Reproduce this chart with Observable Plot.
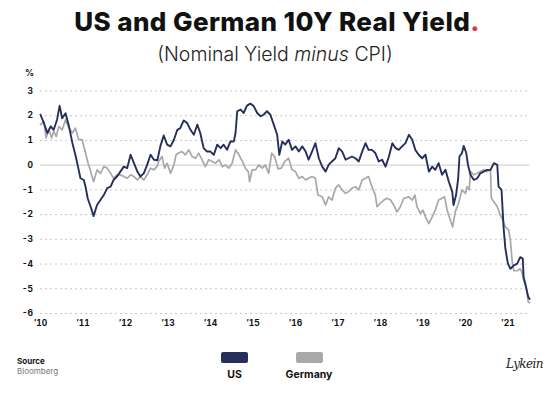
<!DOCTYPE html>
<html>
<head>
<meta charset="utf-8">
<script src="https://cdn.jsdelivr.net/npm/d3@7"></script>
<script src="https://cdn.jsdelivr.net/npm/@observablehq/plot@0.6"></script>
<style>
  html, body { margin: 0; padding: 0; background: #fff; }
  #wrap { position: relative; width: 550px; height: 394px; font-family: Inter, "Open Sans", sans-serif; color: #111; overflow: hidden; }
  .abs { position: absolute; white-space: nowrap; }
  #title { left: 2px; width: 550px; top: 6px; text-align: center; font-size: 26px; font-weight: 800; letter-spacing: 0.4px; color: #111; }
  #title .dot { color: #e0393e; }
  #subtitle { left: 0; width: 550px; top: 42px; text-align: center; font-size: 19.5px; font-weight: 300; color: #222; }
  #pct { left: 25px; top: 67px; font-size: 9px; font-weight: 700; }
  #chart { position: absolute; left: 0; top: 80px; }
  .sw { position: absolute; width: 27px; height: 11px; border-radius: 2px; }
  .lg { position: absolute; font-size: 10.5px; font-weight: 700; text-align: center; width: 80px; }
  #src1 { left: 17px; top: 356px; font-size: 8px; font-weight: 700; }
  #src2 { left: 17px; top: 366px; font-size: 8px; color: #777; }
  #logo { left: 506px; top: 357px; font-family: "DejaVu Serif", serif; font-style: italic; font-size: 12px; color: #222; letter-spacing: -0.6px; }
</style>
</head>
<body>
<div id="wrap">
  <div id="title" class="abs">US and German 10Y Real Yield<span class="dot">.</span></div>
  <div id="subtitle" class="abs">(Nominal Yield <i>minus</i> CPI)</div>
  <div id="pct" class="abs">%</div>
  <div id="chart"></div>
  <div class="sw" style="left:221px; top:352px; background:#262f5c;"></div>
  <div class="sw" style="left:296px; top:352px; background:#a8a8a8;"></div>
  <div class="lg" style="left:194.5px; top:368px;">US</div>
  <div class="lg" style="left:269px; top:368px;">Germany</div>
  <div id="src1" class="abs">Source</div>
  <div id="src2" class="abs">Bloomberg</div>
  <div id="logo" class="abs">Lykein</div>
</div>
<script>
// ---- data (decimal years, % real yield) ----
const seriesNames = ["US", "Germany"];
const seriesColors = ["#262f5c", "#a8a8a8"];
const yTicks = [-6, -5, -4, -3, -2, -1, 0, 1, 2, 3];
const xTicks = [2010, 2011, 2012, 2013, 2014, 2015, 2016, 2017, 2018, 2019, 2020, 2021];

const usYears = [2010.00,2010.08,2010.16,2010.24,2010.31,2010.39,2010.45,2010.51,2010.59,2010.67,2010.75,2010.82,2010.89,2010.94,2011.02,2011.06,2011.11,2011.18,2011.25,2011.33,2011.41,2011.49,2011.57,2011.65,2011.72,2011.80,2011.88,2011.96,2012.04,2012.12,2012.20,2012.28,2012.35,2012.43,2012.51,2012.59,2012.67,2012.75,2012.82,2012.90,2012.98,2013.06,2013.14,2013.22,2013.29,2013.37,2013.45,2013.53,2013.61,2013.69,2013.76,2013.84,2013.92,2014.00,2014.08,2014.16,2014.24,2014.31,2014.39,2014.47,2014.55,2014.59,2014.63,2014.71,2014.78,2014.86,2014.94,2015.02,2015.10,2015.18,2015.25,2015.33,2015.41,2015.49,2015.57,2015.62,2015.69,2015.76,2015.84,2015.92,2016.00,2016.08,2016.16,2016.24,2016.31,2016.39,2016.47,2016.55,2016.63,2016.71,2016.78,2016.86,2016.94,2017.02,2017.10,2017.18,2017.25,2017.33,2017.41,2017.49,2017.57,2017.65,2017.72,2017.80,2017.88,2017.96,2018.04,2018.12,2018.20,2018.28,2018.35,2018.43,2018.51,2018.59,2018.67,2018.75,2018.82,2018.90,2018.98,2019.06,2019.14,2019.22,2019.29,2019.37,2019.45,2019.53,2019.61,2019.69,2019.72,2019.78,2019.83,2019.86,2019.92,2019.96,2020.02,2020.06,2020.12,2020.20,2020.28,2020.35,2020.43,2020.51,2020.59,2020.67,2020.75,2020.78,2020.85,2020.88,2020.90,2020.94,2021.00,2021.06,2021.14,2021.22,2021.29,2021.35,2021.37,2021.41,2021.48,2021.51];
const usValues = [2.04,1.7,1.3,1.57,1.43,1.84,2.4,1.9,2.1,1.57,0.9,0.42,-0.12,-0.53,-0.6,-0.87,-1.34,-1.68,-2.06,-1.61,-1.41,-1.21,-0.93,-0.87,-0.6,-0.46,-0.26,-0.06,-0.12,0.42,0.08,-0.26,-0.46,-0.33,0.01,0.42,0.22,0.2,0.76,1.2,0.83,0.76,1.03,1.43,1.5,1.81,1.71,1.43,1.23,1.64,1.3,0.69,0.55,0.55,0.42,0.83,0.69,0.83,0.62,0.96,0.96,1.3,2.18,2.25,2.11,2.41,2.49,2.38,2.11,1.98,2.04,2.18,2.04,1.64,1.23,0.42,0.96,0.83,1.03,0.62,0.76,0.55,0.76,0.55,0.22,0.55,0.89,0.28,-0.06,-0.26,0.01,0.15,0.28,0.69,0.55,0.22,0.28,0.35,0.28,0.15,0.55,0.89,0.62,0.62,0.49,0.15,0.22,-0.06,0.35,0.89,0.7,0.62,0.76,0.89,1.23,1.03,0.62,0.42,0.28,0.42,-0.26,-0.06,-0.19,0.08,-0.39,-0.19,-0.67,-1.07,-1.61,-1.21,-0.53,0.35,0.49,0.78,0.49,0.01,-0.39,-0.6,-0.53,-0.33,-0.26,-0.19,-0.19,0.08,0.01,-0.87,-1.0,-1.95,-2.56,-3.37,-3.98,-4.19,-4.05,-3.98,-3.72,-3.78,-4.53,-4.8,-5.34,-5.41];

const deYears = [2010.00,2010.08,2010.13,2010.20,2010.26,2010.31,2010.37,2010.43,2010.51,2010.59,2010.67,2010.75,2010.82,2010.90,2010.98,2011.06,2011.12,2011.18,2011.25,2011.33,2011.41,2011.49,2011.57,2011.65,2011.72,2011.80,2011.88,2011.96,2012.04,2012.12,2012.20,2012.28,2012.35,2012.43,2012.51,2012.59,2012.67,2012.75,2012.78,2012.86,2012.92,2012.98,2013.06,2013.14,2013.19,2013.25,2013.33,2013.41,2013.49,2013.57,2013.65,2013.72,2013.80,2013.88,2013.96,2014.04,2014.12,2014.20,2014.28,2014.35,2014.43,2014.51,2014.59,2014.67,2014.75,2014.82,2014.89,2014.92,2014.98,2015.06,2015.14,2015.22,2015.29,2015.37,2015.44,2015.51,2015.59,2015.67,2015.75,2015.84,2015.92,2016.00,2016.08,2016.16,2016.24,2016.31,2016.39,2016.47,2016.53,2016.63,2016.71,2016.78,2016.86,2016.94,2017.02,2017.10,2017.18,2017.25,2017.33,2017.41,2017.49,2017.57,2017.65,2017.72,2017.80,2017.88,2017.92,2018.00,2018.08,2018.16,2018.24,2018.31,2018.39,2018.47,2018.55,2018.67,2018.75,2018.81,2018.86,2018.94,2019.00,2019.06,2019.14,2019.22,2019.29,2019.37,2019.45,2019.51,2019.57,2019.62,2019.70,2019.76,2019.84,2019.92,2020.00,2020.04,2020.09,2020.12,2020.20,2020.28,2020.35,2020.43,2020.51,2020.59,2020.61,2020.67,2020.75,2020.82,2020.88,2020.94,2021.02,2021.06,2021.10,2021.14,2021.22,2021.29,2021.33,2021.37,2021.43,2021.48,2021.51];
const deValues = [1.64,1.77,1.1,1.43,1.1,1.37,1.16,1.57,1.43,1.84,1.5,1.3,1.5,1.03,1.03,0.49,0.08,-0.26,-0.67,-0.19,-0.33,-0.06,-0.12,-0.33,-0.53,-0.39,-0.39,-0.46,-0.53,-0.39,-0.46,-0.6,-0.46,-0.6,-0.39,-0.12,-0.19,-0.03,0.15,0.35,-0.12,0.08,-0.33,0.01,0.42,0.49,0.55,0.42,0.62,0.35,0.28,0.49,0.22,-0.06,0.22,0.15,0.08,0.22,-0.06,0.01,-0.12,0.08,0.62,0.42,0.15,-0.12,-0.26,-0.67,-0.19,-0.19,0.01,-0.12,0.01,-0.33,0.49,0.35,-0.15,-0.12,0.15,0.28,-0.19,-0.26,-0.53,-0.46,-0.6,-0.53,-0.46,-0.53,-1.21,-1.28,-1.61,-1.28,-1.41,-0.93,-0.8,-1.0,-1.14,-1.07,-0.93,-0.87,-1.0,-0.6,-0.53,-0.46,-0.87,-1.21,-1.68,-1.54,-1.41,-1.34,-1.41,-1.61,-1.89,-1.68,-1.34,-1.28,-1.41,-1.21,-1.68,-1.95,-1.82,-2.09,-2.36,-2.09,-1.82,-1.41,-1.34,-1.28,-1.82,-2.09,-2.5,-1.89,-1.54,-1.0,-1.14,-0.87,-1.0,-0.26,-0.39,-0.33,-0.26,-0.19,-0.26,-0.19,-1.34,-1.48,-1.68,-2.02,-2.22,-2.5,-2.63,-3.06,-3.88,-4.27,-4.27,-4.19,-4.33,-4.66,-4.93,-5.55,-5.55];

const us = usYears.map((t, i) => ({t, v: usValues[i]}));
const de = deYears.map((t, i) => ({t, v: deValues[i]}));

const chart = Plot.plot({
  width: 550,
  height: 260,
  marginLeft: 40,
  marginRight: 20.5,
  marginTop: 10.5,
  marginBottom: 27,
  style: { fontFamily: "Inter, 'Open Sans', sans-serif", fontSize: "8.5px", fontWeight: 700, color: "#111", background: "transparent" },
  x: { domain: [2010, 2021.52], ticks: xTicks, tickFormat: d => "\u2019" + String(d).slice(2), tickSize: 0, tickPadding: 6, label: null },
  y: { domain: [-6, 3], ticks: yTicks, tickFormat: d => String(d), tickSize: 0, tickPadding: 7.5, label: null },
  marks: [
    Plot.ruleY(yTicks.filter(d => d !== 0), { stroke: "#c8c8c8", strokeWidth: 1, strokeDasharray: "2,3" }),
    Plot.ruleY([0], { stroke: "#dcdcdc", strokeWidth: 1.5 }),
    Plot.line(de, { x: "t", y: "v", stroke: seriesColors[1], strokeWidth: 1.7 }),
    Plot.line(us, { x: "t", y: "v", stroke: seriesColors[0], strokeWidth: 1.9 })
  ]
});
document.getElementById("chart").appendChild(chart);
</script>
</body>
</html>
